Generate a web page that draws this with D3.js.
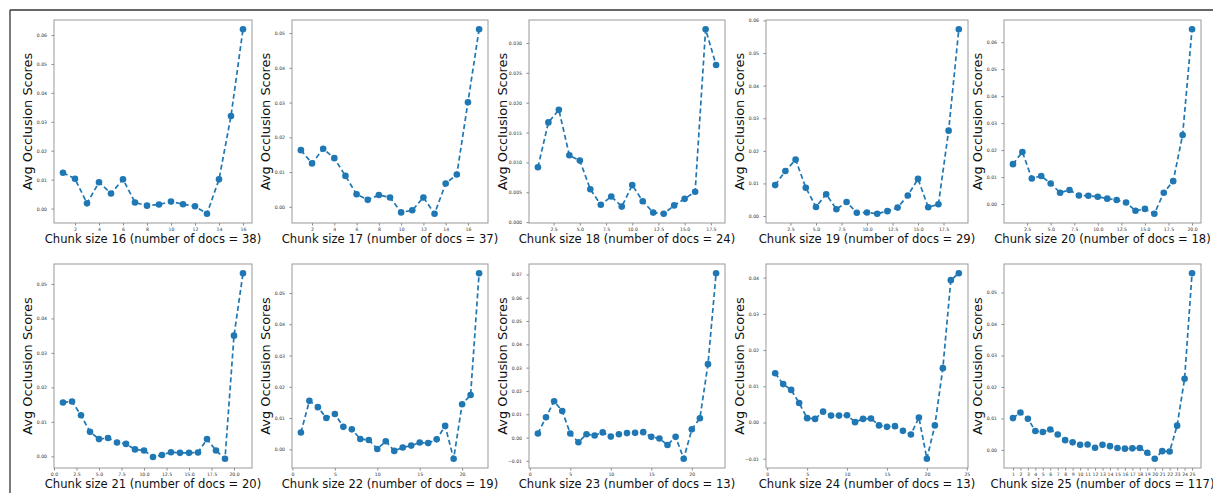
<!DOCTYPE html>
<html>
<head>
<meta charset="utf-8">
<script src="https://cdn.jsdelivr.net/npm/d3@7"></script>
<style>
  body { margin: 0; background: #fff; }
  svg { display: block; font-family: "DejaVu Sans", sans-serif; }
</style>
</head>
<body>
<div id="chart"></div>
<script>
var width = 1213;
var height = 493;

// avg occlusion score per chunk position, one array per chunk size
var chunk16 = [0.0124, 0.0103, 0.0018, 0.0091, 0.0052, 0.0101, 0.0021, 0.0010, 0.0014, 0.0024, 0.0015, 0.0008, -0.0018, 0.0101, 0.0320, 0.0620];
var chunk17 = [0.0163, 0.0125, 0.0167, 0.0140, 0.0089, 0.0036, 0.0020, 0.0034, 0.0027, -0.0016, -0.0010, 0.0027, -0.0020, 0.0067, 0.0093, 0.0301, 0.0511];
var chunk18 = [0.0092, 0.0167, 0.0188, 0.0112, 0.0103, 0.0055, 0.0029, 0.0043, 0.0026, 0.0062, 0.0035, 0.0016, 0.0014, 0.0028, 0.0039, 0.0051, 0.0323, 0.0263];
var chunk19 = [0.0095, 0.0138, 0.0173, 0.0087, 0.0028, 0.0067, 0.0021, 0.0043, 0.0010, 0.0011, 0.0007, 0.0015, 0.0026, 0.0063, 0.0114, 0.0027, 0.0036, 0.0262, 0.0573];
var chunk20 = [0.0148, 0.0193, 0.0095, 0.0104, 0.0076, 0.0042, 0.0052, 0.0032, 0.0031, 0.0027, 0.0020, 0.0015, 0.0006, -0.0025, -0.0018, -0.0036, 0.0042, 0.0085, 0.0256, 0.0648];
var chunk21 = [0.0156, 0.0159, 0.0119, 0.0071, 0.0050, 0.0053, 0.0040, 0.0036, 0.0020, 0.0017, -0.0002, 0.0004, 0.0012, 0.0010, 0.0010, 0.0011, 0.0050, 0.0017, -0.0007, 0.0350, 0.0531];
var chunk22 = [0.0054, 0.0155, 0.0135, 0.0100, 0.0113, 0.0072, 0.0064, 0.0033, 0.0030, 0.0001, 0.0026, -0.0005, 0.0006, 0.0012, 0.0022, 0.0020, 0.0032, 0.0075, -0.0030, 0.0144, 0.0174, 0.0563];
var chunk23 = [0.0017, 0.0087, 0.0156, 0.0114, 0.0017, -0.0020, 0.0014, 0.0009, 0.0022, 0.0004, 0.0014, 0.0019, 0.0020, 0.0023, 0.0003, -0.0004, -0.0032, 0.0003, -0.0091, 0.0035, 0.0083, 0.0315, 0.0705];
var chunk24 = [0.0136, 0.0106, 0.0090, 0.0054, 0.0012, 0.0010, 0.0030, 0.0019, 0.0019, 0.0020, 0.0001, 0.0010, 0.0011, -0.0008, -0.0012, -0.0010, -0.0023, -0.0033, 0.0014, -0.0100, -0.0008, 0.0150, 0.0393, 0.0412];
var chunk25 = [0.0101, 0.0119, 0.0099, 0.0060, 0.0057, 0.0065, 0.0049, 0.0031, 0.0024, 0.0016, 0.0017, 0.0007, 0.0016, 0.0012, 0.0006, 0.0004, 0.0005, 0.0006, -0.0009, -0.0028, -0.0004, -0.0005, 0.0077, 0.0226, 0.0561];

var chunkSizes = [16, 17, 18, 19, 20, 21, 22, 23, 24, 25];
var numDocs = [38, 37, 24, 29, 18, 20, 19, 13, 13, 117];
var scores = [chunk16, chunk17, chunk18, chunk19, chunk20, chunk21, chunk22, chunk23, chunk24, chunk25];

// tick values as shown on each subplot
var yTicks = [
  [0, 0.01, 0.02, 0.03, 0.04, 0.05, 0.06],
  [0, 0.01, 0.02, 0.03, 0.04, 0.05],
  [0, 0.005, 0.01, 0.015, 0.02, 0.025, 0.03],
  [0, 0.01, 0.02, 0.03, 0.04, 0.05, 0.06],
  [0, 0.01, 0.02, 0.03, 0.04, 0.05, 0.06],
  [0, 0.01, 0.02, 0.03, 0.04, 0.05],
  [0, 0.01, 0.02, 0.03, 0.04, 0.05],
  [-0.01, 0, 0.01, 0.02, 0.03, 0.04, 0.05, 0.06, 0.07],
  [-0.01, 0, 0.01, 0.02, 0.03, 0.04],
  [0, 0.01, 0.02, 0.03, 0.04, 0.05]
];
var yTickFormats = [".2f", ".2f", ".3f", ".2f", ".2f", ".2f", ".2f", ".2f", ".2f", ".2f"];
var xTicks = [
  [2, 4, 6, 8, 10, 12, 14, 16],
  [2, 4, 6, 8, 10, 12, 14, 16],
  [2.5, 5, 7.5, 10, 12.5, 15, 17.5],
  [2.5, 5, 7.5, 10, 12.5, 15, 17.5],
  [2.5, 5, 7.5, 10, 12.5, 15, 17.5, 20],
  [0, 2.5, 5, 7.5, 10, 12.5, 15, 17.5, 20],
  [0, 5, 10, 15, 20],
  [0, 5, 10, 15, 20],
  [0, 5, 10, 15, 20, 25],
  d3.range(1, 26)
];
var xTickFormats = ["d", "d", ".1f", ".1f", ".1f", ".1f", "d", "d", "d", "d"];

var colLeft = [54, 292, 529, 766, 1004];
var colRight = [252, 488, 725, 968, 1201];
var rowTop = [20, 264];
var rowBottom = [223, 468];

var blue = "#1f77b4";

var svg = d3.select("#chart")
    .append("svg")
    .attr("width", width)
    .attr("height", height);

// outer frame (only top and left edges are visible)
svg.append("line").attr("x1", 10).attr("x2", width).attr("y1", 10).attr("y2", 10)
    .attr("stroke", "#333").attr("stroke-width", 1.3);
svg.append("line").attr("x1", 10).attr("x2", 10).attr("y1", 10).attr("y2", height)
    .attr("stroke", "#333").attr("stroke-width", 1.3);

scores.forEach(function(vals, i) {
  var row = Math.floor(i / 5), col = i % 5;
  var l = colLeft[col], r = colRight[col], t = rowTop[row], b = rowBottom[row];
  var n = vals.length;

  // matplotlib style 5% margins
  var xm = 0.05 * (n - 1);
  var x = d3.scaleLinear().domain([1 - xm, n + xm]).range([l, r]);
  var ymin = d3.min(vals), ymax = d3.max(vals), ym = 0.05 * (ymax - ymin);
  var y = d3.scaleLinear().domain([ymin - ym, ymax + ym]).range([b, t]);

  var g = svg.append("g");

  var xAxis = g.append("g")
      .attr("transform", "translate(0," + b + ")")
      .call(d3.axisBottom(x).tickValues(xTicks[i]).tickFormat(d3.format(xTickFormats[i]))
        .tickSize(2.5).tickPadding(2));
  var yAxis = g.append("g")
      .attr("transform", "translate(" + l + ",0)")
      .call(d3.axisLeft(y).tickValues(yTicks[i]).tickFormat(d3.format(yTickFormats[i]))
        .tickSize(2.5).tickPadding(4.5));

  [xAxis, yAxis].forEach(function(a) {
    a.select(".domain").remove();
    a.selectAll(".tick line").attr("stroke", "#555").attr("stroke-width", 0.7);
    a.selectAll(".tick text").attr("fill", "#333").style("font-size", "4.6px")
        .style("font-family", "DejaVu Sans");
  });

  g.append("rect")
      .attr("x", l).attr("y", t)
      .attr("width", r - l).attr("height", b - t)
      .attr("fill", "none")
      .attr("stroke", "#999")
      .attr("stroke-width", 1);

  var line = d3.line()
      .x(function(d, j) { return x(j + 1); })
      .y(function(d) { return y(d); });

  g.append("path")
      .datum(vals)
      .attr("d", line)
      .attr("fill", "none")
      .attr("stroke", blue)
      .attr("stroke-width", 1.7)
      .attr("stroke-dasharray", "5,3");

  g.selectAll("circle")
      .data(vals)
      .enter().append("circle")
      .attr("cx", function(d, j) { return x(j + 1); })
      .attr("cy", function(d) { return y(d); })
      .attr("r", 3.3)
      .attr("fill", blue);

  // the source figure is stretched a little vertically, so the labels are too
  g.append("text")
      .attr("transform", "translate(" + ((l + r) / 2) + "," + (b + 20) + ") scale(1,1.12)")
      .attr("text-anchor", "middle")
      .style("font-size", "11.6px")
      .attr("fill", "#111")
      .text("Chunk size " + chunkSizes[i] + " (number of docs = " + numDocs[i] + ")");

  g.append("text")
      .attr("transform", "translate(" + (l - 22) + "," + ((t + b) / 2) + ") rotate(-90) scale(1.115,1)")
      .attr("text-anchor", "middle")
      .style("font-size", "11.6px")
      .attr("fill", "#111")
      .text("Avg Occlusion Scores");
});
</script>
</body>
</html>
